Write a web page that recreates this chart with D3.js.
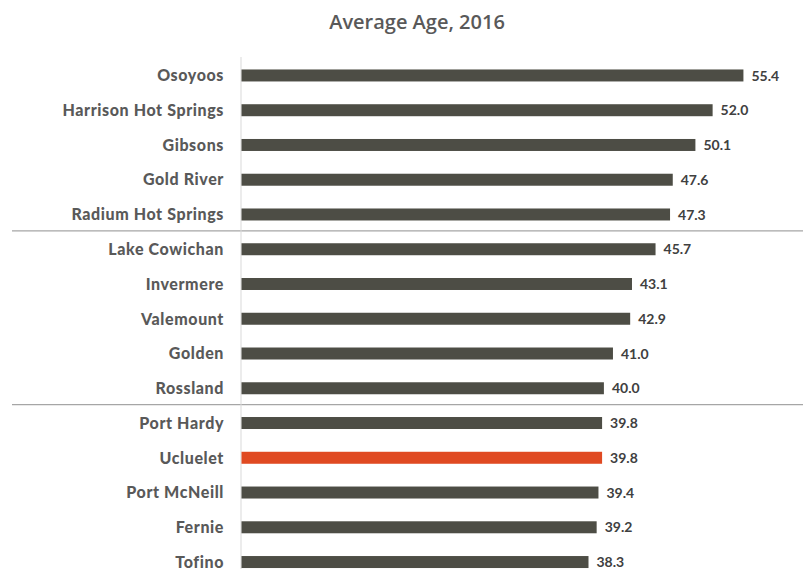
<!DOCTYPE html>
<meta charset="utf-8">
<head>
<style>
  body { margin: 0; background: #fff; }
</style>
</head>
<body>
    <div id="my_dataviz"></div>
    <script src="https://d3js.org/d3.v7.min.js"></script>
<script>
    // data
    const towns = ["Osoyoos", "Harrison Hot Springs", "Gibsons", "Gold River", "Radium Hot Springs",
                   "Lake Cowichan", "Invermere", "Valemount", "Golden", "Rossland",
                   "Port Hardy", "Ucluelet", "Port McNeill", "Fernie", "Tofino"];
    const ages = [55.4, 52.0, 50.1, 47.6, 47.3, 45.7, 43.1, 42.9, 41.0, 40.0, 39.8, 39.8, 39.4, 39.2, 38.3];
    const highlight = "Ucluelet";
    // groups are split after these rows
    const breaksAfter = ["Radium Hot Springs", "Rossland"];

    const W = 803, H = 569;
    const left = 241.5;

    const svg = d3.select("#my_dataviz")
      .append("svg")
        .attr("width", W)
        .attr("height", H);

    const x = d3.scaleLinear()
      .domain([0, 1])
      .range([left, left + 9.06]);

    const y = d3.scaleBand()
      .domain(towns)
      .range([58, 579.5])
      .paddingInner(0.655)
      .paddingOuter(0.33);

    // title
    svg.append("text")
      .attr("x", 417)
      .attr("y", 29)
      .attr("text-anchor", "middle")
      .style("font-family", "'Open Sans', sans-serif")
      .style("font-weight", "600")
      .style("font-size", "20px")
      .style("fill", "#595959")
      .text("Average Age, 2016");

    // separator lines between groups
    const step = y.step();
    svg.append("g")
      .selectAll("line")
      .data(breaksAfter)
      .join("line")
        .attr("x1", 12)
        .attr("x2", W)
        .attr("y1", d => y(d) + y.bandwidth() / 2 + step / 2 - 1)
        .attr("y2", d => y(d) + y.bandwidth() / 2 + step / 2 - 1)
        .style("stroke", "#a6a6a6")
        .style("stroke-width", 1.3);

    // vertical axis line
    svg.append("line")
      .attr("x1", left - 0.5)
      .attr("x2", left - 0.5)
      .attr("y1", 57)
      .attr("y2", H)
      .style("stroke", "#d9d9d9")
      .style("stroke-width", 1);

    // bars
    svg.append("g")
      .selectAll("rect")
      .data(towns)
      .join("rect")
        .attr("x", x(0))
        .attr("y", d => y(d))
        .attr("width", (d, i) => x(ages[i]) - x(0))
        .attr("height", y.bandwidth())
        .style("fill", d => d == highlight ? "#e04a22" : "#4d4d45");

    // category labels
    svg.append("g")
      .selectAll("text")
      .data(towns)
      .join("text")
        .attr("x", 224)
        .attr("y", d => y(d) + y.bandwidth() / 2)
        .attr("dy", "0.36em")
        .attr("text-anchor", "end")
        .style("font-family", "Lato, sans-serif")
        .style("font-weight", "900")
        .style("font-size", "16px")
        .style("letter-spacing", "0.6px")
        .style("fill", "#595959")
        .text(d => d);

    // value labels
    svg.append("g")
      .selectAll("text")
      .data(towns)
      .join("text")
        .attr("x", (d, i) => x(ages[i]) + 8)
        .attr("y", d => y(d) + y.bandwidth() / 2)
        .attr("dy", "0.36em")
        .style("font-family", "Lato, sans-serif")
        .style("font-weight", "bold")
        .style("font-size", "14px")
        .style("fill", "#404040")
        .text((d, i) => ages[i].toFixed(1));
</script>
</body>
